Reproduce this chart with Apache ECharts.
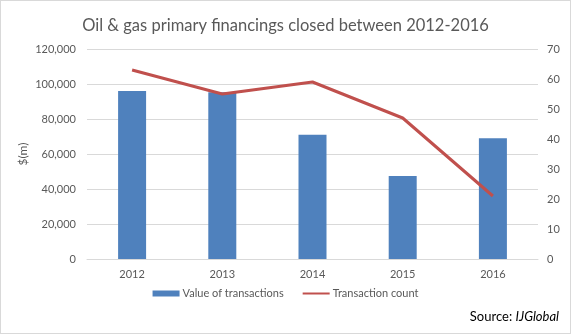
<!DOCTYPE html>
<html>
<head>
<meta charset="utf-8">
<script src="https://cdn.jsdelivr.net/npm/echarts@6/dist/echarts.min.js"></script>
<style>
  html, body { margin: 0; padding: 0; background: #fff; }
  #chart { width: 569px; height: 332px; border: 1px solid #d9d9d9; }
</style>
</head>
<body>
<div id="chart"></div>
<script>
// Oil & gas primary financings, 2012-2016
const years = ['2012', '2013', '2014', '2015', '2016'];
const transactionValue = [96000, 95300, 71000, 47500, 69000]; // $ (m)
const transactionCount = [63, 55, 59, 47, 21];

const FONT = 'Lato, "Open Sans", sans-serif';
const GREY = '#595959';

const chart = echarts.init(document.getElementById('chart'), null, { renderer: 'canvas' });
chart.setOption({
  animation: false,
  textStyle: { fontFamily: FONT },
  title: {
    text: 'Oil & gas primary financings closed between 2012-2016',
    left: 'center',
    top: 11,
    textStyle: { fontFamily: FONT, fontSize: 16.5, fontWeight: 'normal', color: GREY }
  },
  graphic: [{
    type: 'text',
    right: 11,
    top: 309,
    style: {
      rich: {
        a: { fontFamily: FONT, fontSize: 13, fill: '#000' },
        b: { fontFamily: FONT, fontSize: 13, fill: '#000', fontStyle: 'italic' }
      },
      text: '{a|Source: }{b|IJGlobal}'
    }
  }],
  legend: {
    bottom: 29,
    left: 'center',
    itemGap: 18,
    itemWidth: 27,
    itemHeight: 6,
    textStyle: { fontFamily: FONT, fontSize: 11, color: GREY, padding: [0, 0, 0, -2] },
    data: [
      { name: 'Value of transactions', icon: 'rect' },
      { name: 'Transaction count', itemStyle: { opacity: 0 } }
    ]
  },
  grid: { left: 86, right: 32, top: 48, bottom: 74 },
  xAxis: {
    type: 'category',
    data: years,
    axisTick: { show: false },
    axisLine: { lineStyle: { color: '#d9d9d9' } },
    axisLabel: { color: GREY, fontSize: 11, margin: 10 }
  },
  yAxis: [{
    type: 'value',
    min: 0, max: 120000, interval: 20000,
    name: '$(m)',
    nameLocation: 'middle',
    nameGap: 58,
    nameMoveOverlap: false,
    nameTextStyle: { color: GREY, fontSize: 12 },
    axisLine: { show: false },
    axisTick: { show: false },
    axisLabel: {
      color: GREY, fontSize: 11, margin: 11,
      formatter: v => v.toLocaleString('en-US')
    },
    splitLine: { lineStyle: { color: '#d9d9d9' } }
  }, {
    type: 'value',
    min: 0, max: 70, interval: 10,
    position: 'right',
    axisLine: { show: false },
    axisTick: { show: false },
    axisLabel: { color: GREY, fontSize: 11, margin: 9 },
    splitLine: { show: false }
  }],
  series: [{
    name: 'Value of transactions',
    type: 'bar',
    data: transactionValue,
    barWidth: 28,
    itemStyle: { color: '#4f81bd' }
  }, {
    name: 'Transaction count',
    type: 'line',
    yAxisIndex: 1,
    data: transactionCount,
    symbol: 'none',
    lineStyle: { color: '#c0504d', width: 3 },
    itemStyle: { color: '#c0504d' }
  }]
});
</script>
</body>
</html>
